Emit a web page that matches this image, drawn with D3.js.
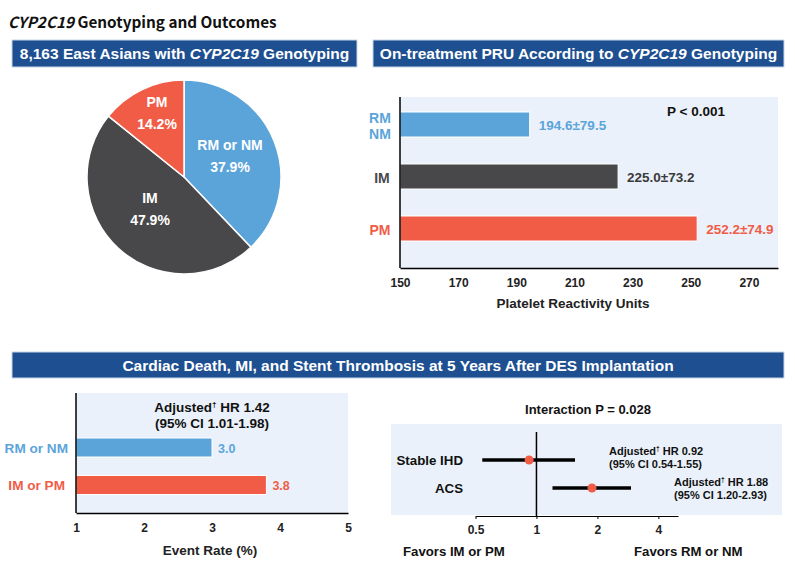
<!DOCTYPE html>
<html><head><meta charset="utf-8">
<script src="https://cdn.jsdelivr.net/npm/d3@7"></script>
<style>
html,body{margin:0;padding:0;background:#fff;}
svg{display:block;font-family:"Liberation Sans",Arial,sans-serif;font-weight:bold;}
</style></head>
<body>
<svg id="chart" width="795" height="582"></svg>
<script>
// ---- data ----
const pieCategories = ["RM or NM", "IM", "PM"];
const pieValues = [37.9, 47.9, 14.2];

const pruCategories = ["RM NM", "IM", "PM"];
const pruMeans = [194.6, 225.0, 252.2];
const pruSD = [79.5, 73.2, 74.9];
const pruTicks = [150, 170, 190, 210, 230, 250, 270];

const eventCategories = ["RM or NM", "IM or PM"];
const eventRates = [3.0, 3.8];
const eventTicks = [1, 2, 3, 4, 5];

const forestCategories = ["Stable IHD", "ACS"];
const forestHR = [0.92, 1.88];
const forestLo = [0.54, 1.20];
const forestHi = [1.55, 2.93];
const forestTicks = [0.5, 1, 2, 4];

const BLUE = "#5ba4da", GRAY = "#48484b", RED = "#f15c47", HEAD = "#1d4f91", BG = "#eaf1fa";
const colors3 = [BLUE, GRAY, RED];

const svg = d3.select("#chart");

// ---- title ----
const t = svg.append("text").attr("x", 8).attr("y", 28).attr("font-size", 15.3)
  .attr("font-family", "'Noto Sans CJK KR','Noto Sans',sans-serif").attr("fill", "#111");
t.append("tspan").attr("font-style", "italic").text("CYP2C19");
t.append("tspan").text(" Genotyping and Outcomes");

function header(x, y, w, h, parts, fs) {
  svg.append("rect").attr("x", x).attr("y", y).attr("width", w).attr("height", h)
    .attr("fill", HEAD).attr("stroke", "#c9d6e8").attr("stroke-width", 1);
  const tx = svg.append("text").attr("x", x + w / 2).attr("y", y + h / 2 + fs * 0.36)
    .attr("text-anchor", "middle").attr("fill", "#fff").attr("font-size", fs);
  parts.forEach(p => tx.append("tspan").attr("font-style", p[1] ? "italic" : "normal").text(p[0]));
}
header(12, 40, 345, 27, [["8,163 East Asians with ", 0], ["CYP2C19", 1], [" Genotyping", 0]], 15.5);
header(373, 40, 411, 27, [["On-treatment PRU According to ", 0], ["CYP2C19", 1], [" Genotyping", 0]], 15.5);
header(12, 352, 772, 26, [["Cardiac Death, MI, and Stent Thrombosis at 5 Years After DES Implantation", 0]], 15.5);

// ---- pie ----
const cx = 184, cy = 177, R = 97;
const pie = d3.pie().sort(null).value(d => d)(pieValues);
const arc = d3.arc().innerRadius(0).outerRadius(R);
const pg = svg.append("g").attr("transform", `translate(${cx},${cy})`);
pg.selectAll("path").data(pie).join("path").attr("d", arc)
  .attr("fill", (d, i) => colors3[i]).attr("stroke", "#fff").attr("stroke-width", 1.5);
const pieLabelPos = [[46, -27], [-34, 26], [-27, -70]];
pie.forEach((d, i) => {
  const [lx, ly] = pieLabelPos[i];
  pg.append("text").attr("x", lx).attr("y", ly).attr("text-anchor", "middle")
    .attr("fill", "#fff").attr("font-size", 14).text(pieCategories[i]);
  pg.append("text").attr("x", lx).attr("y", ly + 22).attr("text-anchor", "middle")
    .attr("fill", "#fff").attr("font-size", 14).text(pieValues[i].toFixed(1) + "%");
});

// ---- PRU bar chart ----
const px = d3.scaleLinear().domain([150, 280]).range([400, 778]);
const py = d3.scalePoint().domain(pruCategories).range([124.5, 228.5]);
const pTop = 97, pBot = 268;
svg.append("rect").attr("x", px.range()[0]).attr("y", pTop)
  .attr("width", px.range()[1] - px.range()[0]).attr("height", pBot - pTop).attr("fill", BG);
const pbh = 25;
svg.append("g").selectAll("rect").data(pruMeans).join("rect")
  .attr("x", px(150)).attr("y", (d, i) => py(pruCategories[i]) - pbh / 2)
  .attr("width", d => px(d) - px(150)).attr("height", pbh)
  .attr("fill", (d, i) => colors3[i]).attr("stroke", "#fff").attr("stroke-width", 1);
pruMeans.forEach((d, i) => {
  svg.append("text").attr("x", px(d) + 9).attr("y", py(pruCategories[i]) + 5)
    .attr("font-size", 13.5).attr("fill", i === 1 ? "#3a3a3a" : colors3[i])
    .text(d.toFixed(1) + "±" + pruSD[i].toFixed(1));
});
// y labels
const yl = svg.append("g");
yl.append("text").attr("x", 380).attr("y", py("RM NM") - 2).attr("text-anchor", "middle")
  .attr("fill", BLUE).attr("font-size", 14).text("RM");
yl.append("text").attr("x", 380).attr("y", py("RM NM") + 14).attr("text-anchor", "middle")
  .attr("fill", BLUE).attr("font-size", 14).text("NM");
yl.append("text").attr("x", 382).attr("y", py("IM") + 6).attr("text-anchor", "middle")
  .attr("fill", GRAY).attr("font-size", 14).text("IM");
yl.append("text").attr("x", 380).attr("y", py("PM") + 6).attr("text-anchor", "middle")
  .attr("fill", RED).attr("font-size", 14).text("PM");
// axes
const pxAxis = svg.append("g").attr("transform", `translate(0,${pBot})`)
  .call(d3.axisBottom(px).tickValues(pruTicks).tickSize(0).tickPadding(10).tickFormat(d3.format("d")));
pxAxis.select(".domain").attr("stroke", "#000").attr("stroke-width", 1.5);
pxAxis.selectAll("text").attr("font-size", 12).attr("font-family", "'Liberation Sans',Arial,sans-serif")
  .attr("font-weight", "bold").attr("fill", "#222");
svg.append("line").attr("x1", 400).attr("x2", 400).attr("y1", pTop).attr("y2", pBot)
  .attr("stroke", "#000").attr("stroke-width", 1.5);
svg.append("text").attr("x", 573).attr("y", 308).attr("text-anchor", "middle")
  .attr("font-size", 13.5).attr("fill", "#222").text("Platelet Reactivity Units");
svg.append("text").attr("x", 667).attr("y", 116).attr("font-size", 13.5).attr("fill", "#111").text("P < 0.001");

// ---- Event rate bar chart ----
const ex = d3.scaleLinear().domain([1, 5]).range([76, 348]);
const ey = d3.scalePoint().domain(eventCategories).range([447.5, 485]);
const eTop = 393, eBot = 513;
svg.append("rect").attr("x", 76).attr("y", eTop).attr("width", 272).attr("height", eBot - eTop).attr("fill", BG);
const ebh = 19;
const eColors = [BLUE, RED];
svg.append("g").selectAll("rect").data(eventRates).join("rect")
  .attr("x", ex(1)).attr("y", (d, i) => ey(eventCategories[i]) - ebh / 2)
  .attr("width", d => ex(d) - ex(1)).attr("height", ebh)
  .attr("fill", (d, i) => eColors[i]).attr("stroke", "#fff").attr("stroke-width", 1);
eventRates.forEach((d, i) => {
  svg.append("text").attr("x", ex(d) + 6).attr("y", ey(eventCategories[i]) + 5)
    .attr("font-size", 12.5).attr("fill", eColors[i]).text(d.toFixed(1));
  svg.append("text").attr("x", 68 - (i ? 3 : 0)).attr("y", ey(eventCategories[i]) + 5)
    .attr("text-anchor", "end").attr("font-size", 13.6).attr("fill", eColors[i]).text(eventCategories[i]);
});
const exAxis = svg.append("g").attr("transform", `translate(0,${eBot})`)
  .call(d3.axisBottom(ex).tickValues(eventTicks).tickSize(0).tickPadding(10).tickFormat(d3.format("d")));
exAxis.select(".domain").attr("stroke", "#000").attr("stroke-width", 1.5);
exAxis.selectAll("text").attr("font-size", 12).attr("font-family", "'Liberation Sans',Arial,sans-serif")
  .attr("font-weight", "bold").attr("fill", "#222");
svg.append("line").attr("x1", 76).attr("x2", 76).attr("y1", eTop).attr("y2", eBot)
  .attr("stroke", "#000").attr("stroke-width", 1.5);
svg.append("text").attr("x", 210).attr("y", 555).attr("text-anchor", "middle")
  .attr("font-size", 13.5).attr("fill", "#222").text("Event Rate (%)");
function adjText(x, y, hr, ci, fs, anchor) {
  const a = svg.append("text").attr("x", x).attr("y", y).attr("font-size", fs).attr("fill", "#111")
    .attr("text-anchor", anchor);
  a.append("tspan").text("Adjusted");
  a.append("tspan").attr("font-size", fs * 0.6).attr("dy", -fs * 0.35).text("†");
  a.append("tspan").attr("dy", fs * 0.35).text(" HR " + hr);
  svg.append("text").attr("x", x).attr("y", y + fs * 1.2).attr("font-size", fs).attr("fill", "#111")
    .attr("text-anchor", anchor).text("(95% CI " + ci + ")");
}
adjText(212, 412, "1.42", "1.01-1.98", 13.5, "middle");

// ---- Forest plot ----
const fx = d3.scaleLog().domain([0.5, 5]).range([475.5, 678]);
const fy = d3.scalePoint().domain(forestCategories).range([460, 488]);
svg.append("rect").attr("x", 391).attr("y", 424).attr("width", 391).attr("height", 91).attr("fill", BG);
svg.append("text").attr("x", 588).attr("y", 414).attr("text-anchor", "middle")
  .attr("font-size", 13).attr("fill", "#111").text("Interaction P = 0.028");
const fxAxis = svg.append("g").attr("transform", "translate(0,516)")
  .call(d3.axisBottom(fx).tickValues(forestTicks).tickSize(3).tickSizeOuter(0).tickPadding(6)
    .tickFormat(d => d));
fxAxis.select(".domain").attr("stroke", "#000").attr("stroke-width", 1.2);
fxAxis.selectAll(".tick line").attr("stroke", "#000");
fxAxis.selectAll("text").attr("font-size", 12).attr("font-family", "'Liberation Sans',Arial,sans-serif")
  .attr("font-weight", "bold").attr("fill", "#222");
svg.append("line").attr("x1", fx(1)).attr("x2", fx(1)).attr("y1", 432).attr("y2", 516)
  .attr("stroke", "#000").attr("stroke-width", 1.5);
forestCategories.forEach((c, i) => {
  svg.append("line").attr("x1", fx(forestLo[i])).attr("x2", fx(forestHi[i]))
    .attr("y1", fy(c)).attr("y2", fy(c)).attr("stroke", "#000").attr("stroke-width", 3.5);
  svg.append("circle").attr("cx", fx(forestHR[i])).attr("cy", fy(c)).attr("r", 4.5).attr("fill", RED);
  svg.append("text").attr("x", 463).attr("y", fy(c) + 5).attr("text-anchor", "end")
    .attr("font-size", 13.3).attr("fill", "#111").text(c);
});
adjText(609, 455, "0.92", "0.54-1.55", 11, "start");
adjText(674, 486, "1.88", "1.20-2.93", 11, "start");
svg.append("text").attr("x", 403).attr("y", 556).attr("font-size", 13.2).attr("fill", "#111").text("Favors IM or PM");
svg.append("text").attr("x", 634).attr("y", 556).attr("font-size", 13.2).attr("fill", "#111").text("Favors RM or NM");
</script>
</body></html>
